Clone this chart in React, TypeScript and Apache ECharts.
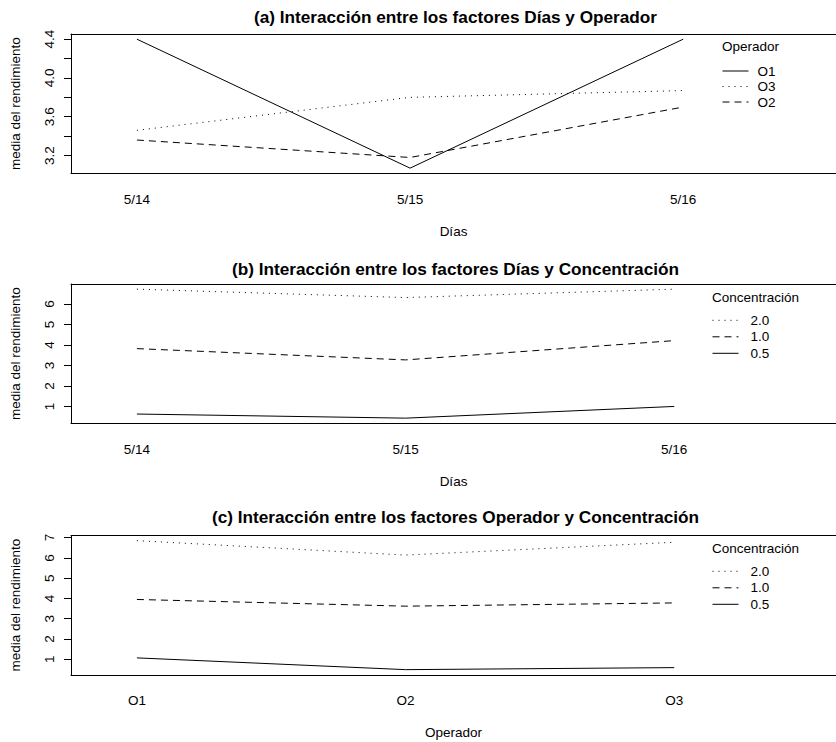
import React, { useEffect, useRef } from 'react';
import * as echarts from 'echarts';

// ---- data ----
const dias = ['5/14', '5/15', '5/16'];
const operadores = ['O1', 'O2', 'O3'];

// (a) media del rendimiento por Día y Operador
const aO1 = [4.40, 3.07, 4.40];
const aO2 = [3.36, 3.18, 3.70];
const aO3 = [3.46, 3.80, 3.87];

// (b) media por Día y Concentración
const bC05 = [0.63, 0.43, 1.00];
const bC10 = [3.82, 3.27, 4.21];
const bC20 = [6.72, 6.31, 6.72];

// (c) media por Operador y Concentración
const cC05 = [1.07, 0.49, 0.59];
const cC10 = [3.95, 3.62, 3.78];
const cC20 = [6.85, 6.14, 6.77];

const yTicksA = [3.2, 3.4, 3.6, 3.8, 4.0, 4.2, 4.4];
const yLabelsA = [3.2, 3.6, 4.0, 4.4];
const yTicksB = [1, 2, 3, 4, 5, 6];
const yTicksC = [1, 2, 3, 4, 5, 6, 7];
const xPositions = [1, 2, 3];

const legendA = ['O1', 'O3', 'O2'];
const legendConc = ['2.0', '1.0', '0.5'];

const FONT = '"Liberation Sans", Arial, Helvetica, sans-serif';
const SOLID: any = 'solid';
const DASHED: any = [7, 5];
const DOTTED: any = [1, 5];

function ext(arrs: number[][]) {
  const all = ([] as number[]).concat(...arrs);
  const mn = Math.min(...all);
  const mx = Math.max(...all);
  const d = (mx - mn) * 0.04;
  return [mn - d, mx + d];
}

export default function App() {
  const ref = useRef<HTMLDivElement>(null);
  useEffect(() => {
    document.body.style.margin = '0';
    const chart = echarts.init(ref.current!, null, { renderer: 'svg' });

    const tops = [34, 284, 535.5];
    const gridH = 139.3;
    const xRanges = [
      [0.7587, 3.5594],
      [0.7546, 3.6022],
      [0.7546, 3.6022],
    ];
    const xNames = ['Días', 'Días', 'Operador'];
    const xCats = [dias, dias, operadores];
    const yExt = [ext([aO1, aO2, aO3]), ext([bC05, bC10, bC20]), ext([cC05, cC10, cC20])];
    const yTicks = [yTicksA, yTicksB, yTicksC];
    const yLabels = [yLabelsA, yTicksB, yTicksC];

    const txt = { color: '#000', fontFamily: FONT, fontSize: 13.5 };
    const blackLine = { show: true, onZero: false, lineStyle: { color: '#000', width: 1 } };

    const grid = tops.map((t) => ({
      left: 70,
      top: t,
      width: 766,
      height: gridH,
      show: false,
    }));

    const xAxisBottom = tops.map((_, i) => ({
      type: 'value',
      gridIndex: i,
      position: 'bottom',
      min: xRanges[i][0],
      max: xRanges[i][1],
      name: xNames[i],
      nameLocation: 'middle',
      nameGap: 51,
      nameTextStyle: { ...txt },
      axisLine: blackLine,
      axisTick: { show: false },
      splitLine: { show: false },
      axisLabel: {
        customValues: xPositions,
        margin: 19,
        ...txt,
        formatter: (v: number) => xCats[i][Math.round(v) - 1] ?? '',
      },
    }));
    const xAxisTop = tops.map((_, i) => ({
      type: 'value',
      gridIndex: i,
      position: 'top',
      min: xRanges[i][0],
      max: xRanges[i][1],
      axisLine: blackLine,
      axisTick: { show: false },
      splitLine: { show: false },
      axisLabel: { show: false },
    }));

    const yAxis = tops.map((_, i) => ({
      type: 'value',
      gridIndex: i,
      min: yExt[i][0],
      max: yExt[i][1],
      name: 'media del rendimiento',
      nameLocation: 'middle',
      nameRotate: 90,
      nameGap: 49,
      nameTextStyle: { ...txt },
      axisLine: blackLine,
      splitLine: { show: false },
      axisTick: {
        show: true,
        customValues: yTicks[i],
        length: 7,
        lineStyle: { color: '#000', width: 1 },
      },
      axisLabel: {
        customValues: yLabels[i],
        rotate: 90,
        margin: 15,
        ...txt,
        formatter: (v: number) => (i === 0 ? v.toFixed(1) : String(Math.round(v))),
      },
    }));

    const mk = (name: string, vals: number[], idx: number, type: any) => ({
      type: 'line',
      name,
      xAxisIndex: idx,
      yAxisIndex: idx,
      symbol: 'none',
      silent: true,
      lineStyle: { color: '#000', width: 1, type },
      itemStyle: { color: '#000' },
      data: vals.map((v, k) => [xPositions[k], v]),
    });

    const series = [
      mk('O1', aO1, 0, SOLID),
      mk('O2', aO2, 0, DASHED),
      mk('O3', aO3, 0, DOTTED),
      mk('0.5', bC05, 1, SOLID),
      mk('1.0', bC10, 1, DASHED),
      mk('2.0', bC20, 1, DOTTED),
      mk('0.5', cC05, 2, SOLID),
      mk('1.0', cC10, 2, DASHED),
      mk('2.0', cC20, 2, DOTTED),
    ];

    const legBase = {
      orient: 'vertical',
      itemWidth: 26,
      itemHeight: 12,
      padding: 0,
      selectedMode: false,
      lineStyle: { width: 1 },
      itemStyle: { color: 'rgba(0,0,0,0)', borderColor: 'rgba(0,0,0,0)', borderWidth: 0, opacity: 0 },
    };
    const legend = [
      { ...legBase, data: legendA, left: 722, top: 64, itemGap: 1.5, textStyle: { ...txt, padding: [0, 0, 0, 4] } },
      { ...legBase, data: legendConc, left: 712, top: 313.3, itemGap: 2.5, textStyle: { ...txt, padding: [0, 0, 0, 7] } },
      { ...legBase, data: legendConc, left: 712, top: 564.3, itemGap: 2.5, textStyle: { ...txt, padding: [0, 0, 0, 7] } },
    ];

    const mainTitle = (text: string, top: number) => ({
      text,
      left: 455.5,
      top,
      textAlign: 'center',
      padding: 0,
      textStyle: { color: '#000', fontFamily: FONT, fontSize: 17.2, fontWeight: 'bold' },
    });
    const legTitle = (text: string, left: number, top: number) => ({
      text,
      left,
      top,
      padding: 0,
      textStyle: { ...txt, fontWeight: 'normal' },
    });

    chart.setOption({
      animation: false,
      backgroundColor: '#fff',
      title: [
        mainTitle('(a) Interacción entre los factores Días y Operador', 8.5),
        mainTitle('(b) Interacción entre los factores Días y Concentración', 260),
        mainTitle('(c) Interacción entre los factores Operador y Concentración', 508.5),
        legTitle('Operador', 722, 39.3),
        legTitle('Concentración', 712, 290),
        legTitle('Concentración', 712, 541.6),
      ],
      legend,
      grid,
      xAxis: [...xAxisBottom, ...xAxisTop],
      yAxis,
      series,
    });
    return () => chart.dispose();
  }, []);
  return <div ref={ref} style={{ width: 836, height: 742 }} />;
}
